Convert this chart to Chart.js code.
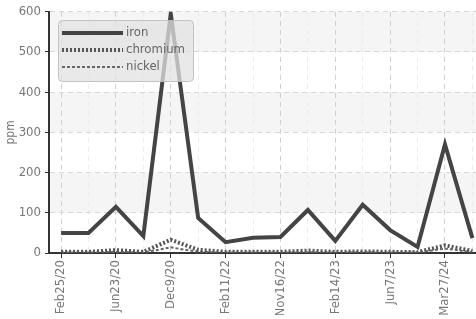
<!DOCTYPE html>
<html>
<head>
<meta charset="utf-8">
<script src="https://cdn.jsdelivr.net/npm/chart.js@4/dist/chart.umd.min.js"></script>
<style>
  html, body { margin: 0; padding: 0; background: #fff; overflow: hidden; }
  #wrap { width: 490px; height: 319px; }
</style>
</head>
<body>
<div id="wrap"><canvas id="chart"></canvas></div>
<script>
// dates d'analyse (une sur deux est affichée)
const dates = ['Feb25/20', 'Apr8/20', 'Jun23/20', 'Sep2/20', 'Dec9/20', 'Jun15/21',
  'Feb11/22', 'Jul20/22', 'Nov16/22', 'Dec21/22', 'Feb14/23', 'Apr5/23',
  'Jun7/23', 'Nov1/23', 'Mar27/24', 'Jul10/24'];

const iron     = [50, 50, 115, 42, 595, 87, 27, 38, 40, 107, 30, 120, 57, 15, 270, 37];
const chromium = [3, 3, 7, 3, 33, 8, 3, 3, 3, 6, 3, 4, 3, 2, 19, 5];
const nickel   = [1, 1, 3, 1, 14, 3, 1, 1, 1, 2, 1, 2, 1, 1, 11, 2];

const yTicks = [0, 100, 200, 300, 400, 500, 600];

const FONT = "'DejaVu Sans Condensed', 'Liberation Sans Narrow', sans-serif";

// bandes grises alternées
const bandsPlugin = {
  id: 'bands',
  beforeDraw(chart) {
    const { ctx, chartArea, scales } = chart;
    const y = scales.y;
    ctx.save();
    ctx.fillStyle = '#f5f5f5';
    for (let i = 1; i < yTicks.length - 1; i += 2) {
      const top = y.getPixelForValue(yTicks[i + 1]);
      const bot = y.getPixelForValue(yTicks[i]);
      ctx.fillRect(chartArea.left, top, chartArea.right - chartArea.left, bot - top);
    }
    ctx.restore();
  }
};

// légende dans la zone du graphique
const legendPlugin = {
  id: 'innerLegend',
  afterDraw(chart) {
    const { ctx } = chart;
    const x = 58, y = 20, w = 135, h = 61;
    ctx.save();
    ctx.fillStyle = 'rgba(225,225,225,0.75)';
    ctx.strokeStyle = 'rgba(190,190,190,0.9)';
    ctx.lineWidth = 1;
    ctx.beginPath();
    ctx.roundRect(x + 0.5, y + 0.5, w, h, 4);
    ctx.fill();
    ctx.stroke();
    chart.data.datasets.forEach((ds, i) => {
      const ly = 33 + i * 17;
      ctx.strokeStyle = ds.borderColor;
      ctx.lineWidth = ds.borderWidth;
      ctx.setLineDash(ds.borderDash || []);
      ctx.beginPath();
      ctx.moveTo(62, ly);
      ctx.lineTo(123, ly);
      ctx.stroke();
      ctx.setLineDash([]);
      ctx.fillStyle = '#666';
      ctx.font = '13px ' + FONT;
      ctx.textBaseline = 'middle';
      ctx.fillText(ds.label, 126, ly);
    });
    ctx.restore();
  }
};

const toPoints = arr => arr.map((v, i) => ({ x: i, y: v }));

new Chart(document.getElementById('chart'), {
  type: 'line',
  data: {
    datasets: [
      { label: 'iron', data: toPoints(iron), borderColor: '#444', borderWidth: 4, pointRadius: 0, tension: 0 },
      { label: 'chromium', data: toPoints(chromium), borderColor: '#555', borderWidth: 4, borderDash: [2, 2], pointRadius: 0, tension: 0 },
      { label: 'nickel', data: toPoints(nickel), borderColor: '#666', borderWidth: 2, borderDash: [3, 2], pointRadius: 0, tension: 0 },
    ],
  },
  options: {
    responsive: true,
    maintainAspectRatio: false,
    animation: false,
    layout: { padding: { left: 4, top: 7, right: 0, bottom: 4 } },
    plugins: { legend: { display: false }, tooltip: { enabled: false } },
    scales: {
      x: {
        type: 'linear',
        min: -0.44,
        max: 15.22,
        afterFit(scale) { scale.height = 62; },
        afterBuildTicks(scale) {
          scale.ticks = dates.map((d, i) => ({ value: i }));
        },
        ticks: {
          autoSkip: false,
          maxRotation: 90,
          minRotation: 90,
          color: '#777',
          font: { family: FONT, size: 13 },
          padding: 2,
          callback: (v) => (v % 2 === 0 ? dates[v] : ''),
        },
        grid: {
          color: ctx => (ctx.tick && ctx.tick.value % 2 === 0 ? '#cfcfcf' : '#ececec'),
          tickColor: ctx => (ctx.tick && ctx.tick.value % 2 === 0 ? '#333' : 'rgba(0,0,0,0)'),
          tickLength: 5,
        },
        border: { display: true, color: '#333', width: 2, dash: [5, 4] },
      },
      y: {
        min: 0,
        max: 600,
        afterFit(scale) { scale.width = 45; },
        afterBuildTicks(scale) {
          scale.ticks = yTicks.map(v => ({ value: v }));
        },
        title: { display: true, text: 'ppm', color: '#777', font: { family: FONT, size: 12 }, padding: 0 },
        ticks: { color: '#777', font: { family: FONT, size: 13 }, padding: 4 },
        grid: { color: '#d8d8d8', tickColor: '#333', tickLength: 4 },
        border: { display: true, color: '#333', width: 2, dash: [5, 4] },
      },
    },
  },
  plugins: [bandsPlugin, legendPlugin],
});
</script>
</body>
</html>
